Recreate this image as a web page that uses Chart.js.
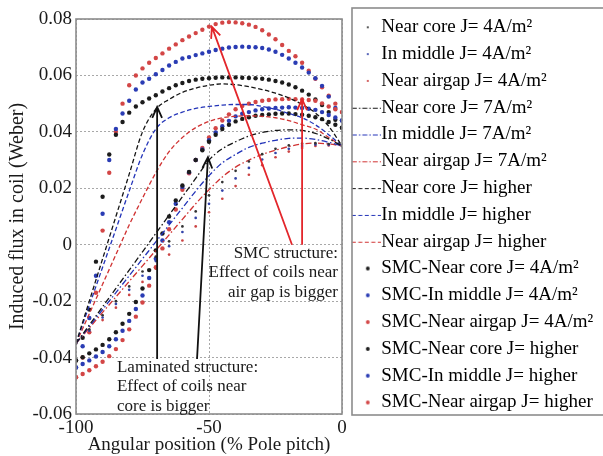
<!DOCTYPE html>
<html>
<head>
<meta charset="utf-8">
<script src="https://cdn.jsdelivr.net/npm/chart.js@4.4.1/dist/chart.umd.min.js"></script>
<style>
  html, body { margin: 0; padding: 0; background: #fff; overflow: hidden; }
</style>
</head>
<body>
<canvas id="fluxChart" width="603" height="456"></canvas>
<script>
// angular position (% pole pitch)
const angle5 = [-100, -95, -90, -85, -80, -75, -70, -65, -60, -55, -50, -45, -40, -35, -30, -25, -20, -15, -10, -5, 0];
const angle25 = [-100, -97.5, -95, -92.5, -90, -87.5, -85, -82.5, -80, -77.5, -75, -72.5, -70, -67.5, -65, -62.5, -60, -57.5, -55, -52.5,
  -50, -47.5, -45, -42.5, -40, -37.5, -35, -32.5, -30, -27.5, -25, -22.5, -20, -17.5, -15, -12.5, -10, -7.5, -5, -2.5, 0];

// laminated, J = 4 A/m2 (small dots)
const lamCore4 = [-0.035, -0.030, -0.025, -0.020, -0.0148, -0.0095, -0.0042, 0.0012, 0.0065, 0.0118, 0.0175, 0.0222, 0.0262, 0.0295, 0.0321, 0.034, 0.0352, 0.0358, 0.036, 0.0357, 0.035];
const lamMid4 = [-0.035, -0.0305, -0.0258, -0.021, -0.016, -0.011, -0.0058, -0.0005, 0.0045, 0.0095, 0.0145, 0.0192, 0.0235, 0.0272, 0.0302, 0.0325, 0.034, 0.035, 0.0355, 0.0354, 0.035];
const lamGap4 = [-0.035, -0.031, -0.0267, -0.0223, -0.0178, -0.0132, -0.0085, -0.0035, 0.0015, 0.0065, 0.0115, 0.0163, 0.0208, 0.0248, 0.0282, 0.031, 0.033, 0.0343, 0.035, 0.0352, 0.035];

// laminated, J = 7 A/m2 (dash-dot)
const lamCore7 = [-0.035, -0.0285, -0.022, -0.0155, -0.009, -0.0025, 0.004, 0.0105, 0.017, 0.0235, 0.030, 0.034, 0.0365, 0.0385, 0.0398, 0.0405, 0.0407, 0.0405, 0.0395, 0.0375, 0.035];
const lamMid7 = [-0.035, -0.029, -0.023, -0.017, -0.011, -0.005, 0.001, 0.007, 0.013, 0.019, 0.0245, 0.029, 0.032, 0.0345, 0.036, 0.037, 0.0377, 0.0378, 0.0373, 0.0363, 0.035];
const lamGap7 = [-0.035, -0.0295, -0.024, -0.0185, -0.013, -0.0075, -0.002, 0.0035, 0.009, 0.0145, 0.0195, 0.024, 0.0275, 0.030, 0.032, 0.0335, 0.0348, 0.0357, 0.036, 0.0357, 0.035];

// laminated, J higher (dashed)
const lamCoreHi = [-0.035, -0.020, -0.005, 0.010, 0.025, 0.040, 0.048, 0.0515, 0.054, 0.0555, 0.0565, 0.057, 0.0567, 0.056, 0.055, 0.0537, 0.052, 0.0497, 0.0467, 0.042, 0.035];
const lamMidHi = [-0.035, -0.0215, -0.008, 0.0055, 0.019, 0.032, 0.041, 0.045, 0.047, 0.0483, 0.049, 0.0495, 0.0497, 0.0497, 0.049, 0.048, 0.0465, 0.045, 0.0425, 0.039, 0.035];
const lamGapHi = [-0.035, -0.0245, -0.014, -0.0035, 0.007, 0.0165, 0.0255, 0.033, 0.038, 0.0415, 0.0437, 0.045, 0.0455, 0.0457, 0.0455, 0.045, 0.044, 0.0425, 0.041, 0.038, 0.035];

// SMC, J = 4 A/m2
const smcCore4 = [-0.041, -0.0399, -0.0385, -0.0371, -0.0355, -0.0335, -0.031, -0.028, -0.0245, -0.0203,
  -0.0155, -0.009, -0.002, 0.004, 0.010, 0.0157, 0.021, 0.0258, 0.030, 0.0335,
  0.0365, 0.039, 0.041, 0.0425, 0.0437, 0.0446, 0.0452, 0.0457, 0.046, 0.0462,
  0.0464, 0.0465, 0.0465, 0.0463, 0.0461, 0.0457, 0.0452, 0.0445, 0.0435, 0.0425, 0.0415];
const smcMid4 = [-0.0435, -0.0423, -0.041, -0.0396, -0.038, -0.036, -0.0335, -0.0305, -0.027, -0.0228,
  -0.018, -0.0118, -0.005, 0.0015, 0.008, 0.0145, 0.0205, 0.0257, 0.030, 0.0338,
  0.037, 0.0398, 0.042, 0.0439, 0.0455, 0.0464, 0.047, 0.0476, 0.048, 0.0483,
  0.0485, 0.0486, 0.0487, 0.0486, 0.0485, 0.0482, 0.0478, 0.047, 0.046, 0.0451, 0.044];
const smcGap4 = [-0.047, -0.0458, -0.0445, -0.0431, -0.0415, -0.0395, -0.037, -0.0338, -0.030, -0.0255,
  -0.0205, -0.0145, -0.008, -0.0013, 0.0055, 0.0125, 0.0195, 0.0253, 0.030, 0.0343,
  0.038, 0.0413, 0.044, 0.0462, 0.048, 0.0492, 0.050, 0.0506, 0.051, 0.0513,
  0.0515, 0.0516, 0.0517, 0.0516, 0.0515, 0.0513, 0.051, 0.0501, 0.049, 0.048, 0.047];

// SMC, J higher
const smcCoreHi = [-0.041, -0.033, -0.023, -0.006, 0.017, 0.032, 0.039, 0.0435, 0.0468, 0.049,
  0.0505, 0.0518, 0.053, 0.0543, 0.0555, 0.0565, 0.0573, 0.058, 0.0585, 0.0588,
  0.059, 0.0592, 0.0593, 0.0593, 0.0593, 0.0592, 0.0591, 0.059, 0.0588, 0.0585,
  0.058, 0.0575, 0.0568, 0.0558, 0.0546, 0.0532, 0.0515, 0.0495, 0.047, 0.0443, 0.0415];
const smcMidHi = [-0.0435, -0.036, -0.026, -0.011, 0.011, 0.030, 0.041, 0.0465, 0.051, 0.055,
  0.0575, 0.0588, 0.0604, 0.0619, 0.0635, 0.0648, 0.066, 0.0665, 0.0672, 0.0678,
  0.0684, 0.069, 0.0695, 0.0699, 0.0701, 0.0702, 0.0701, 0.07, 0.0697, 0.0692,
  0.0684, 0.0673, 0.066, 0.0645, 0.0628, 0.061, 0.059, 0.0563, 0.0525, 0.0485, 0.044];
const smcGapHi = [-0.047, -0.040, -0.031, -0.017, 0.005, 0.0255, 0.040, 0.050, 0.0565, 0.060,
  0.0625, 0.0645, 0.0662, 0.0678, 0.0695, 0.071, 0.0725, 0.0738, 0.075, 0.0762,
  0.0773, 0.0782, 0.0787, 0.0789, 0.0788, 0.0785, 0.078, 0.0772, 0.076, 0.0745,
  0.0728, 0.0708, 0.0687, 0.0668, 0.0645, 0.0617, 0.0588, 0.0558, 0.0528, 0.050, 0.047];

const xTicks = [-100, -50, 0];

const FONT = "'Liberation Serif', 'Times New Roman', serif";
const TEXT = '#1a1a1a';
const BLACK = '#141414', BLUE = '#2233b8', RED = '#d03232';

// legend marker images
function marker(kind, color) {
  const c = document.createElement('canvas');
  c.width = 40; c.height = 10;
  const g = c.getContext('2d');
  if (kind === 'dot' || kind === 'bigdot') {
    g.fillStyle = color;
    g.beginPath();
    g.arc(27, 5, kind === 'dot' ? 1.1 : 1.9, 0, Math.PI * 2);
    g.fill();
  } else {
    g.strokeStyle = color;
    g.lineWidth = 1.2;
    g.setLineDash(kind === 'dashdot' ? [5, 2, 1.5, 2] : [4, 2.5]);
    g.beginPath();
    g.moveTo(11, 5.5);
    g.lineTo(40, 5.5);
    g.stroke();
  }
  return c;
}

const pts = (xs, ys) => xs.map((x, i) => ({ x, y: ys[i] }));

function dotSet(label, xs, ys, color, r, kind) {
  return {
    label, data: pts(xs, ys), showLine: false,
    backgroundColor: color, borderColor: color, borderWidth: 0,
    pointRadius: r, pointHoverRadius: r, pointBorderWidth: 0,
    legendMarker: marker(kind, color)
  };
}

function lineSet(label, xs, ys, color, dash, kind) {
  return {
    label, data: pts(xs, ys), showLine: true, fill: false,
    borderColor: color, backgroundColor: color, borderWidth: 1.3, borderDash: dash,
    pointRadius: 0, pointHoverRadius: 0, cubicInterpolationMode: 'monotone',
    legendMarker: marker(kind, color)
  };
}

const DASHDOT = [6, 2.5, 1.5, 2.5];
const DASHED = [4.5, 2.5];

const datasets = [
  dotSet('Near core J= 4A/m²', angle5, lamCore4, '#333333', 1.35, 'dot'),
  dotSet('In middle J= 4A/m²', angle5, lamMid4, '#3344aa', 1.35, 'dot'),
  dotSet('Near airgap J= 4A/m²', angle5, lamGap4, '#cc4444', 1.35, 'dot'),
  lineSet('Near core J= 7A/m²', angle5, lamCore7, BLACK, DASHDOT, 'dashdot'),
  lineSet('In middle J= 7A/m²', angle5, lamMid7, BLUE, DASHDOT, 'dashdot'),
  lineSet('Near airgap J= 7A/m²', angle5, lamGap7, RED, DASHDOT, 'dashdot'),
  lineSet('Near core J= higher', angle5, lamCoreHi, BLACK, DASHED, 'dashed'),
  lineSet('In middle J= higher', angle5, lamMidHi, BLUE, DASHED, 'dashed'),
  lineSet('Near airgap J= higher', angle5, lamGapHi, RED, DASHED, 'dashed'),
  dotSet('SMC-Near core J= 4A/m²', angle25, smcCore4, '#1c1c1c', 2.2, 'bigdot'),
  dotSet('SMC-In middle J= 4A/m²', angle25, smcMid4, '#2a3cb4', 2.2, 'bigdot'),
  dotSet('SMC-Near airgap J= 4A/m²', angle25, smcGap4, '#d34646', 2.2, 'bigdot'),
  dotSet('SMC-Near core J= higher', angle25, smcCoreHi, '#1c1c1c', 2.2, 'bigdot'),
  dotSet('SMC-In middle J= higher', angle25, smcMidHi, '#2a3cb4', 2.2, 'bigdot'),
  dotSet('SMC-Near airgap J= higher', angle25, smcGapHi, '#d34646', 2.2, 'bigdot')
];

// annotations (data units)
const arrows = [
  { from: [-69.5, -0.0405], to: [-69.5, 0.0488], color: '#111111' },
  { from: [-54.5, -0.0405], to: [-50.4, 0.0310], color: '#111111' },
  { from: [-18.8, 0.0], to: [-48.9, 0.0772], color: '#e3262b' },
  { from: [-15.0, 0.0], to: [-15.0, 0.0516], color: '#e3262b' }
];
const notes = [
  { lines: ['SMC structure:', 'Effect of coils near', 'air gap is bigger'], x: -1.5, y: -0.0031, align: 'right' },
  { lines: ['Laminated structure:', 'Effect of coils near', 'core is bigger'], x: -84.6, y: -0.0435, align: 'left' }
];

function drawArrow(ctx, x1, y1, x2, y2, color) {
  const ang = Math.atan2(y2 - y1, x2 - x1), len = 12, spread = 0.42;
  ctx.strokeStyle = color;
  ctx.lineWidth = 1.8;
  ctx.setLineDash([]);
  ctx.beginPath();
  ctx.moveTo(x1, y1);
  ctx.lineTo(x2, y2);
  ctx.moveTo(x2 - len * Math.cos(ang - spread), y2 - len * Math.sin(ang - spread));
  ctx.lineTo(x2, y2);
  ctx.lineTo(x2 - len * Math.cos(ang + spread), y2 - len * Math.sin(ang + spread));
  ctx.stroke();
}

const overlay = {
  id: 'overlay',
  afterDraw(chart) {
    const { ctx, chartArea: a, scales: { x, y } } = chart;
    ctx.save();
    ctx.setLineDash([]);
    ctx.strokeStyle = '#8c8c8c';
    ctx.lineWidth = 1.6;
    ctx.strokeRect(a.left, a.top, a.right - a.left, a.bottom - a.top);
    const lg = chart.legend;
    ctx.strokeRect(lg.left + 10, 8, 300, a.bottom + 1 - 8);

    arrows.forEach(ar => drawArrow(ctx,
      x.getPixelForValue(ar.from[0]), y.getPixelForValue(ar.from[1]),
      x.getPixelForValue(ar.to[0]), y.getPixelForValue(ar.to[1]), ar.color));

    ctx.fillStyle = TEXT;
    ctx.font = '17px ' + FONT;
    ctx.textBaseline = 'middle';
    notes.forEach(n => {
      ctx.textAlign = n.align;
      const px = x.getPixelForValue(n.x), py = y.getPixelForValue(n.y);
      n.lines.forEach((t, i) => ctx.fillText(t, px, py + i * 19.3));
    });
    ctx.restore();
  }
};

new Chart(document.getElementById('fluxChart'), {
  type: 'scatter',
  data: { datasets },
  options: {
    responsive: false,
    animation: false,
    layout: { padding: { top: 10, left: 0, right: 0, bottom: 0 } },
    plugins: {
      tooltip: { enabled: false },
      title: { display: true, text: '', padding: 0, font: { size: 9, lineHeight: 1 } },
      legend: {
        position: 'right',
        align: 'start',
        maxWidth: 261,
        labels: {
          usePointStyle: true,
          pointStyleWidth: 22,
          padding: 7.8,
          color: TEXT,
          font: { family: FONT, size: 19 },
          generateLabels: chart => chart.data.datasets.map((ds, i) => ({
            text: ds.label,
            pointStyle: ds.legendMarker,
            fillStyle: ds.borderColor,
            strokeStyle: ds.borderColor,
            lineWidth: 0,
            hidden: false,
            datasetIndex: i
          }))
        }
      }
    },
    scales: {
      x: {
        type: 'linear',
        min: -100,
        max: 0,
        afterBuildTicks: s => { s.ticks = xTicks.map(v => ({ value: v })); },
        ticks: { padding: 3, color: TEXT, maxRotation: 0, font: { family: FONT, size: 19 } },
        grid: { color: '#a8a8a8', lineWidth: 1, drawTicks: false },
        border: { display: false, dash: [2, 2] },
        title: {
          display: true, text: 'Angular position (% Pole pitch)', color: TEXT,
          font: { family: FONT, size: 19 }, padding: { top: 0, bottom: 0 }
        },
        afterFit: s => { s.height = 42; }
      },
      y: {
        min: -0.06,
        max: 0.08,
        ticks: {
          stepSize: 0.02, padding: 4, color: TEXT,
          font: { family: FONT, size: 19, lineHeight: 0.95 },
          callback: v => Math.abs(v) < 1e-9 ? '0' : v.toFixed(2)
        },
        grid: { color: '#a8a8a8', lineWidth: 1, drawTicks: false },
        border: { display: false, dash: [2, 2] },
        title: {
          display: true, text: 'Induced flux in coil (Weber)', color: TEXT,
          font: { family: FONT, size: 20 }, padding: { top: 6, bottom: 0 }
        },
        afterFit: s => { s.width = 76; }
      }
    }
  },
  plugins: [overlay]
});
</script>
</body>
</html>
